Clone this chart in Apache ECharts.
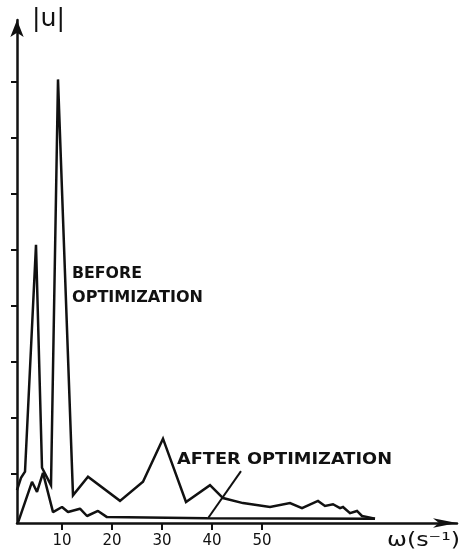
<!DOCTYPE html>
<html>
<head>
<meta charset="utf-8">
<script src="https://cdn.jsdelivr.net/npm/echarts@6/dist/echarts.min.js"></script>
<style>
  html, body { margin: 0; padding: 0; background: #fff; }
  #chart { width: 469px; height: 559px; }
</style>
</head>
<body>
<div id="chart"></div>
<script>
// Amplitude spectrum |u| against angular frequency, before and after optimization
const beforeOmega = [1.0, 1.8, 2.6, 4.8, 6.0, 7.8, 9.2, 12.2, 15.2, 21.6, 26.2, 30.2, 34.8, 39.6, 42.2, 46.2, 51.6, 55.6, 58.0, 61.2, 62.6, 64.2, 65.6, 66.2, 67.6, 69.0, 70.0, 71.2, 72.6];
const beforeAmp = [0.71, 0.93, 1.04, 5.09, 1.11, 0.80, 8.04, 0.62, 0.95, 0.52, 0.86, 1.63, 0.50, 0.80, 0.57, 0.48, 0.41, 0.48, 0.39, 0.52, 0.43, 0.46, 0.39, 0.41, 0.30, 0.34, 0.25, 0.23, 0.20];
const afterOmega = [1.2, 4.0, 5.0, 6.2, 8.2, 10.0, 11.2, 13.6, 15.0, 17.2, 19.0, 39.0, 72.6];
const afterAmp = [0.13, 0.86, 0.68, 1.02, 0.32, 0.41, 0.32, 0.38, 0.25, 0.34, 0.23, 0.21, 0.20];
const omegaTicks = [10, 20, 30, 40, 50];
const ampTicks = [1, 2, 3, 4, 5, 6, 7, 8];

const INK = '#111';
const LETTER_FONT = 'bold 16px "DejaVu Sans"';

// horizontal stretch so a label spans a given width
const measureCtx = document.createElement('canvas').getContext('2d');
function stretch(text, font, width) {
  measureCtx.font = font;
  return width / measureCtx.measureText(text).width;
}

function label(text, x, y, width, font) {
  return {
    type: 'text', x: x, y: y, scaleX: stretch(text, font, width), silent: true,
    style: { text: text, font: font, fill: INK, verticalAlign: 'middle', textAlign: 'left' }
  };
}

const chart = echarts.init(document.getElementById('chart'), null, { renderer: 'canvas' });
chart.setOption({
  animation: false,
  backgroundColor: '#fff',
  grid: { left: 17, right: 12, top: 20, bottom: 36, containLabel: false },
  xAxis: {
    type: 'value', min: 1, max: 89,
    axisLine: { show: true, symbol: ['none', 'arrow'], symbolSize: [7, 24], lineStyle: { color: INK, width: 2.5 } },
    axisTick: { show: true, customValues: omegaTicks, length: 7, lineStyle: { color: INK, width: 2 } },
    axisLabel: { show: true, customValues: omegaTicks, margin: 11, color: INK, fontSize: 15, fontFamily: 'DejaVu Sans' },
    splitLine: { show: false }
  },
  yAxis: {
    type: 'value', min: 0.125, max: 9.1,
    axisLine: { show: true, symbol: ['none', 'arrow'], symbolSize: [10, 17], lineStyle: { color: INK, width: 2.5 } },
    axisTick: { show: true, customValues: ampTicks, length: 6, lineStyle: { color: INK, width: 2 } },
    axisLabel: { show: false },
    splitLine: { show: false }
  },
  series: [
    {
      name: 'BEFORE OPTIMIZATION', type: 'line', showSymbol: false, silent: true,
      data: beforeOmega.map((w, i) => [w, beforeAmp[i]]),
      lineStyle: { color: INK, width: 2.5, join: 'miter' }
    },
    {
      name: 'AFTER OPTIMIZATION', type: 'line', showSymbol: false, silent: true,
      data: afterOmega.map((w, i) => [w, afterAmp[i]]),
      lineStyle: { color: INK, width: 2.5 },
      markLine: {
        silent: true, symbol: ['none', 'none'], label: { show: false },
        lineStyle: { color: INK, width: 2, type: 'solid' },
        data: [[{ coord: [39.2, 0.21] }, { coord: [45.8, 1.05] }]]
      }
    }
  ],
  graphic: [
    label('|u|', 32, 19, 33, '25px "DejaVu Sans"'),
    label('BEFORE', 72, 274, 70, LETTER_FONT),
    label('OPTIMIZATION', 72, 298, 131, LETTER_FONT),
    label('AFTER OPTIMIZATION', 177, 460, 215, LETTER_FONT),
    label('ω(s⁻¹)', 387, 541, 73, '19px "DejaVu Sans"')
  ]
});
</script>
</body>
</html>
